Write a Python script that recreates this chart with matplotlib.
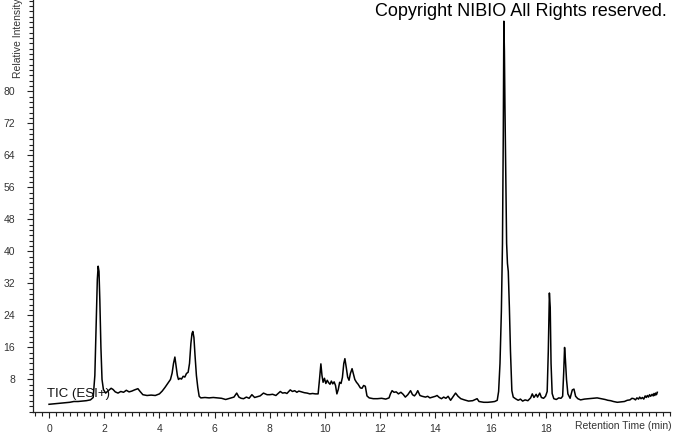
import matplotlib
matplotlib.use("Agg")
import matplotlib.pyplot as plt
from matplotlib.ticker import MultipleLocator, FixedLocator

plt.rcParams['font.family'] = ['Liberation Sans', 'DejaVu Sans']

# retention time (min) and relative intensity
rt = [0.00, 0.15, 0.30, 0.45, 0.60, 0.75, 0.90, 1.05, 1.20, 1.35, 1.50, 1.60,
      1.66, 1.71, 1.75, 1.78, 1.81, 1.84, 1.88, 1.92, 1.97, 2.05, 2.15, 2.25,
      2.32, 2.40, 2.50, 2.60, 2.70, 2.80, 2.90, 3.00, 3.10, 3.22, 3.30, 3.40,
      3.55, 3.70, 3.85, 4.00, 4.10, 4.20, 4.30, 4.40, 4.46, 4.51, 4.56, 4.60,
      4.65, 4.69, 4.74, 4.80, 4.86, 4.92, 4.98, 5.04, 5.09, 5.14, 5.18, 5.21,
      5.25, 5.29, 5.34, 5.39, 5.44, 5.50, 5.65, 5.80, 5.95, 6.10, 6.25, 6.40,
      6.55, 6.70, 6.80, 6.88, 6.96, 7.05, 7.15, 7.25, 7.35, 7.45, 7.55, 7.65,
      7.77, 7.90, 8.00, 8.10, 8.22, 8.30, 8.38, 8.46, 8.55, 8.62, 8.74, 8.82,
      8.90, 8.98, 9.05, 9.15, 9.25, 9.35, 9.45, 9.55, 9.65, 9.75, 9.80, 9.85,
      9.89, 9.93, 9.98, 10.03, 10.08, 10.13, 10.18, 10.23, 10.28, 10.33, 10.38,
      10.43, 10.48, 10.53, 10.58, 10.63, 10.68, 10.72, 10.77, 10.82, 10.87,
      10.92, 10.98, 11.03, 11.08, 11.14, 11.20, 11.28, 11.34, 11.40, 11.46,
      11.52, 11.60, 11.75, 11.90, 12.05, 12.20, 12.32, 12.37, 12.43, 12.50,
      12.58, 12.66, 12.75, 12.83, 12.91, 13.00, 13.10, 13.17, 13.24, 13.30,
      13.36, 13.44, 13.52, 13.64, 13.72, 13.80, 13.90, 14.00, 14.06, 14.14,
      14.22, 14.30, 14.38, 14.46, 14.55, 14.63, 14.73, 14.82, 14.92, 15.05,
      15.20, 15.35, 15.45, 15.51, 15.58, 15.75, 15.90, 16.05, 16.15, 16.24,
      16.29, 16.34, 16.39, 16.43, 16.46, 16.48, 16.50, 16.52, 16.55, 16.58,
      16.61, 16.64, 16.68, 16.72, 16.77, 16.82, 16.90, 17.00, 17.08, 17.16,
      17.25, 17.35, 17.45, 17.51, 17.57, 17.65, 17.70, 17.78, 17.84, 17.92,
      17.99, 18.05, 18.09, 18.13, 18.16, 18.19, 18.23, 18.29, 18.38, 18.47,
      18.55, 18.61, 18.65, 18.68, 18.71, 18.75, 18.80, 18.88, 18.96, 19.02,
      19.08, 19.16, 19.26, 19.40, 19.55, 19.70, 19.86, 20.00, 20.15, 20.25,
      20.35, 20.45, 20.59, 20.72, 20.85, 20.95, 21.05, 21.12, 21.19, 21.25,
      21.30, 21.36, 21.40, 21.45, 21.50, 21.55, 21.60, 21.64, 21.68, 21.72,
      21.76, 21.80, 21.85, 21.89, 21.92, 21.95, 21.98, 22.01, 22.04]
intensity = [1.8, 1.9, 2.0, 2.1, 2.2, 2.3, 2.5, 2.5, 2.6, 2.7, 2.9, 3.5,
             9, 22, 33, 36.3, 35, 28, 16, 8, 5.5, 4.6, 5.2, 5.8,
             5.5, 4.9, 4.6, 5.0, 4.8, 5.3, 4.9, 5.1, 5.4, 5.7, 5.0, 4.2,
             4.0, 4.1, 4.0, 4.4, 5.1, 6.0, 7.0, 8.0, 9.6, 12, 13.6, 11.5,
             9, 8.0, 8.3, 8.1, 8.8, 8.6, 9.5, 9.8, 12, 17, 19.5, 20,
             18.5, 14, 9, 6, 3.8, 3.4, 3.5, 3.4, 3.5, 3.4, 3.3, 3.0,
             3.3, 3.6, 4.6, 3.6, 3.3, 3.2, 3.6, 3.3, 4.2, 3.5, 3.7, 3.9,
             4.6, 4.2, 4.2, 4.3, 4.0, 4.5, 5.0, 4.6, 4.7, 4.5, 5.4, 5.0,
             5.2, 4.8, 5.1, 4.9, 4.7, 4.6, 4.4, 4.5, 4.4, 4.4, 8, 11.9,
             9, 7.3, 8.3, 7.0, 7.8, 7.2, 6.8, 7.6, 6.9, 7.4, 6.5,
             4.4, 5.5, 7.3, 7.0, 8.5, 12, 13.2, 11, 8.6, 7.8,
             9.5, 10.7, 9.4, 8.0, 7.3, 6.8, 5.9, 5.8, 6.5, 6.3,
             3.9, 3.4, 3.2, 3.2, 3.3, 3.1, 3.4, 4.4, 5.2, 4.8,
             4.9, 4.4, 4.8, 4.3, 3.6, 4.2, 5.2, 4.2, 3.9, 4.4,
             5.2, 4.0, 3.8, 3.6, 3.8, 3.4, 3.6, 3.8, 4.0, 3.5,
             3.2, 3.6, 3.3, 3.8, 2.8, 3.6, 4.6, 3.8, 3.2, 2.9,
             2.6, 2.7, 3.0, 3.2, 2.5, 2.3, 2.3, 2.4, 2.5, 2.8,
             5, 12, 25, 42, 70, 97.5, 90, 76, 58, 42,
             37, 35, 26, 15, 5.2, 3.6, 3.2, 2.8, 3.1, 2.6,
             2.9, 2.7, 3.4, 4.4, 3.5, 4.3, 3.6, 4.6, 3.5, 3.3,
             3.8, 5, 15, 29.6, 26, 12, 4.5, 3.2, 3.0, 3.4,
             3.3, 3.8, 10, 16, 13, 8, 4.4, 3.3, 5.4, 5.6,
             3.8, 3.2, 2.9, 3.1, 3.2, 3.3, 3.4, 3.2, 3.0, 2.8,
             2.7, 2.5, 2.3, 2.4, 2.5, 2.8, 2.9, 3.3, 3.2, 2.9,
             3.4, 3.1, 3.6, 3.2, 3.5, 3.1, 3.9, 3.5, 4.0, 3.6,
             4.2, 3.8, 4.3, 3.9, 4.5, 4.0, 4.6, 4.2, 4.8]

ytick_vals = [8, 16, 24, 32, 40, 48, 56, 64, 72, 80]
xtick_vals = [0, 2, 4, 6, 8, 10, 12, 14, 16, 18]

W, H = 673, 433
fig = plt.figure(figsize=(W / 100, H / 100), dpi=100)
ax = fig.add_axes([33.3 / W, 1 - 411.5 / H, (670 - 33.3) / W, 411.5 / H])

ax.plot(rt, intensity, color='black', lw=1.1)

ax.set_xlim(-0.57, 22.5)
ax.set_ylim(0, 102.8)

ax.spines['top'].set_visible(False)
ax.spines['right'].set_visible(False)
for s in ['left', 'bottom']:
    ax.spines[s].set_color('#222222')
    ax.spines[s].set_linewidth(0.9)

ax.xaxis.set_major_locator(FixedLocator(xtick_vals))
ax.xaxis.set_minor_locator(MultipleLocator(0.25))
ax.yaxis.set_major_locator(FixedLocator(ytick_vals))
ax.yaxis.set_minor_locator(MultipleLocator(8 / 6))
ax.tick_params(which='both', direction='out', colors='#222222', width=0.8,
               labelsize=7.5, labelcolor='#333333')
ax.tick_params(which='major', length=4)
ax.tick_params(which='minor', length=3)
ax.tick_params(axis='x', pad=5)
ax.tick_params(axis='y', pad=9)

fig.text(672 / W, 1 - 426 / H, 'Retention Time (min)', ha='right', va='center',
         fontsize=7.5, color='#333333')
fig.text(18 / W, 1 - 78 / H, 'Relative Intensity', ha='center', va='bottom',
         rotation=90, fontsize=7.5, color='#333333')
fig.text(667 / W, 1 - 3 / H, 'Copyright NIBIO All Rights reserved.',
         ha='right', va='top', fontsize=13, color='black')
fig.text(47 / W, 1 - 397 / H, 'TIC (ESI+)', ha='left', va='baseline',
         fontsize=9.5, color='#111111')

fig.savefig('out.png', dpi=100)
